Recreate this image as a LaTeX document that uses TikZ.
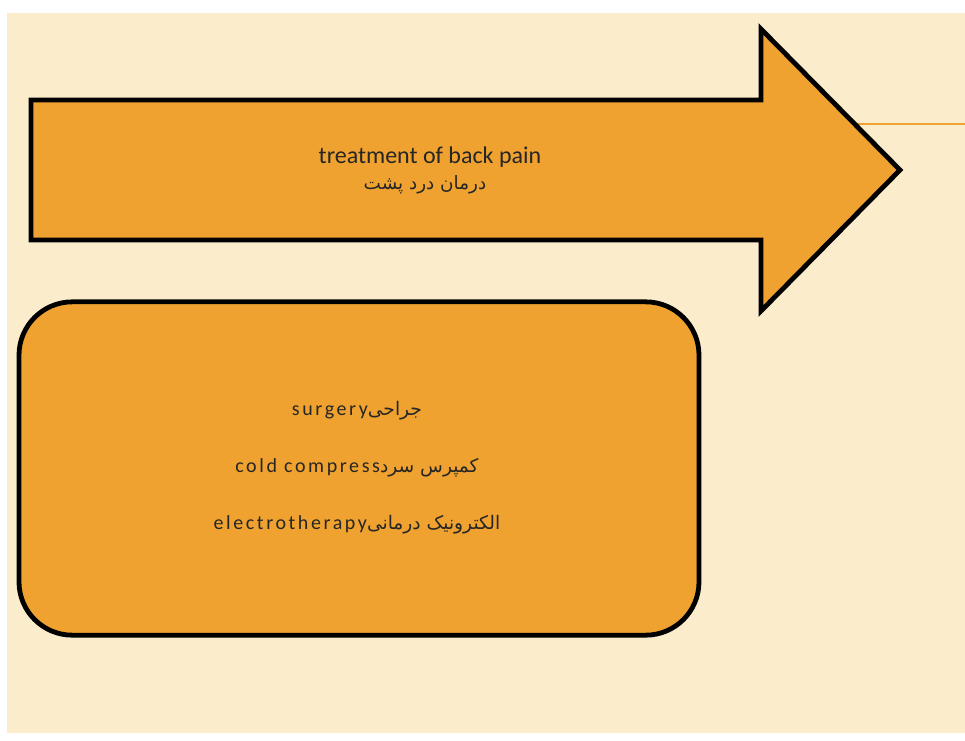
\documentclass[tikz,border=0pt]{standalone}
\usepackage{fontspec}
\setmainfont{Carlito}
\newfontfamily\arabicfont[Script=Arabic]{DejaVu Sans}
\newfontfamily\spacedfont[LetterSpace=13]{Carlito}
\TeXXeTstate=1
\definecolor{cream}{HTML}{FBECCB}
\definecolor{amber}{HTML}{EFA22F}

\begin{document}
\begin{tikzpicture}[x=0.75pt,y=-0.75pt,
	panel/.style={draw=black,fill=amber,line width=3.6pt,line join=miter},
	lbl/.style={inner sep=0pt,text=black!85,font=\fontsize{18}{20}\selectfont},
	item/.style={inner sep=0pt,text=black!85,font=\spacedfont\fontsize{15}{17}\selectfont}]
\useasboundingbox (0,0) rectangle (965,740);
\fill[cream] (7,13) rectangle (965,733);
% thin line behind the arrow head
\coordinate (linestart) at (850,124);
\coordinate (lineend) at (965,124);
\draw[amber,line width=1.8pt] (linestart) -- (lineend);
% big arrow
\draw[panel] (31,100) -- (761,100) -- (761,29) -- (900,170) -- (761,311) -- (761,240) -- (31,240) -- cycle;
\node[lbl] (title) at (430,157) {treatment of back pain};
\node[lbl,font=\arabicfont\fontsize{13.8}{15}\selectfont] (titlefa) at (425,185) {\beginR درمان درد پشت\endR};
% rounded box
\node[panel,rounded corners=40pt,minimum width=510pt,minimum height=250pt] (box) at (359,468.5) {};
\node[item] (surgery) at (357,411) {surgery{\arabicfont\fontsize{14}{16}\selectfont\beginR جراحی\endR}};
\node[item] (cold) at (357,468) {cold compress{\arabicfont\fontsize{14}{16}\selectfont\beginR کمپرس سرد\endR}};
\node[item] (electro) at (357,525) {electrotherapy{\arabicfont\fontsize{14}{16}\selectfont\beginR الکترونیک درمانی\endR}};
\end{tikzpicture}
\end{document}
